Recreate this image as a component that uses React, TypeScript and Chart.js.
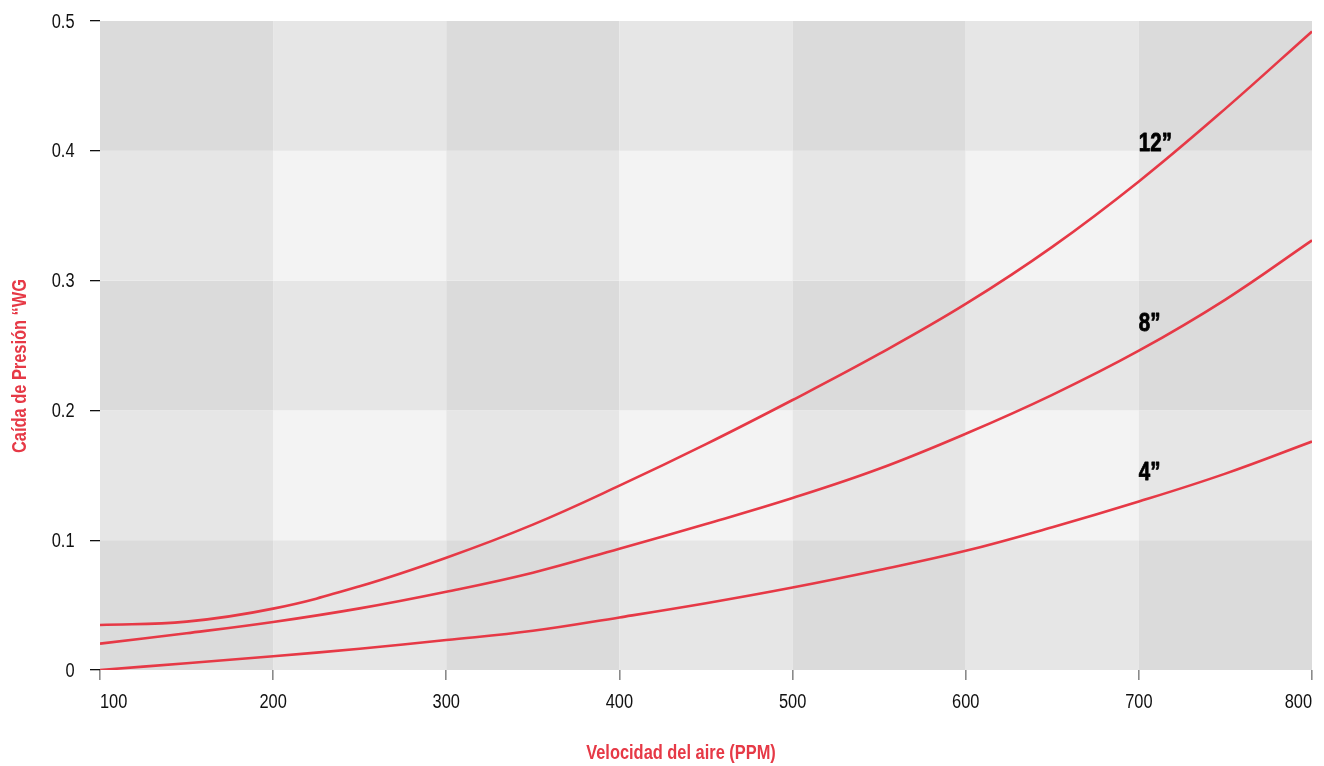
import { useEffect, useRef } from 'react';
import { Chart, registerables } from 'chart.js';

Chart.register(...registerables);

// ---- data ----
const velocities = [100, 150, 200, 250, 300, 350, 400, 450, 500, 550, 600, 650, 700, 750, 800];
const drop12 = [0.0347, 0.0373, 0.0473, 0.0645, 0.0865, 0.112, 0.142, 0.174, 0.208, 0.2435, 0.282, 0.326, 0.3764, 0.4325, 0.492];
const drop8 = [0.0203, 0.0283, 0.037, 0.0475, 0.0603, 0.075, 0.0935, 0.1125, 0.1325, 0.155, 0.182, 0.212, 0.246, 0.2854, 0.331];
const drop4 = [0.0, 0.0052, 0.0106, 0.0164, 0.0231, 0.0302, 0.0405, 0.0514, 0.0635, 0.077, 0.0918, 0.11, 0.1298, 0.1513, 0.176];
const xTicks = [100, 200, 300, 400, 500, 600, 700, 800];
const yTicks = [0, 0.1, 0.2, 0.3, 0.4, 0.5];
const xTickLabels = ['100', '200', '300', '400', '500', '600', '700', '800'];
const yTickLabels = ['0', '0.1', '0.2', '0.3', '0.4', '0.5'];
const seriesNames = ['12”', '8”', '4”'];
const labelAnchorX = 700;
const labelAnchorY = [0.4, 0.261, 0.146];
const xTitle = 'Velocidad del aire (PPM)';
const yTitle = 'Caída de Presión “WG';

const RED = '#e63946';
const SANS = '"Liberation Sans", Arial, sans-serif';
const NARROW_SCALE = 0.82;

function narrowText(
  ctx: CanvasRenderingContext2D,
  text: string,
  x: number,
  y: number,
  align: CanvasTextAlign,
  baseline: CanvasTextBaseline,
  font: string,
  color: string,
  stroke = 0,
) {
  ctx.save();
  ctx.translate(x, y);
  ctx.scale(NARROW_SCALE, 1);
  ctx.font = font;
  ctx.fillStyle = color;
  ctx.textAlign = align;
  ctx.textBaseline = baseline;
  ctx.fillText(text, 0, 0);
  if (stroke > 0) {
    ctx.strokeStyle = color;
    ctx.lineWidth = stroke;
    ctx.lineJoin = 'round';
    ctx.strokeText(text, 0, 0);
  }
  ctx.restore();
}

const checkerPlugin = {
  id: 'checker',
  beforeDatasetsDraw(chart: any) {
    const { ctx, scales } = chart;
    const xs = scales.x;
    const ys = scales.y;
    ctx.save();
    for (let i = 0; i < xTicks.length - 1; i++) {
      for (let j = 0; j < yTicks.length - 1; j++) {
        const dark = (i % 2 === 0 ? 1 : 0) + (j % 2 === 0 ? 1 : 0);
        ctx.fillStyle = dark === 2 ? '#dbdbdb' : dark === 1 ? '#e6e6e6' : '#f3f3f3';
        const x0 = xs.getPixelForValue(xTicks[i]);
        const x1 = xs.getPixelForValue(xTicks[i + 1]);
        const y0 = ys.getPixelForValue(yTicks[j + 1]);
        const y1 = ys.getPixelForValue(yTicks[j]);
        ctx.fillRect(x0, y0, x1 - x0, y1 - y0);
      }
    }
    ctx.restore();
  },
};

const textPlugin = {
  id: 'texts',
  afterDraw(chart: any) {
    const { ctx, scales, chartArea } = chart;
    const xs = scales.x;
    const ys = scales.y;
    const tickFont = `20px ${SANS}`;
    // x tick labels
    xTicks.forEach((v, i) => {
      const align: CanvasTextAlign = i === 0 ? 'left' : i === xTicks.length - 1 ? 'right' : 'center';
      narrowText(ctx, xTickLabels[i], xs.getPixelForValue(v), chartArea.bottom + 38, align, 'alphabetic', tickFont, '#111111');
    });
    // y tick labels
    yTicks.forEach((v, i) => {
      narrowText(ctx, yTickLabels[i], chartArea.left - 25.5, ys.getPixelForValue(v) + 1, 'right', 'middle', tickFont, '#111111');
    });
    // series labels
    seriesNames.forEach((name, i) => {
      narrowText(
        ctx,
        name,
        xs.getPixelForValue(labelAnchorX),
        ys.getPixelForValue(labelAnchorY[i]),
        'left',
        'alphabetic',
        `bold 25px ${SANS}`,
        '#000000',
        0.8,
      );
    });
    // axis titles
    const titleFont = `bold 20px ${SANS}`;
    narrowText(ctx, xTitle, 681, chartArea.bottom + 89, 'center', 'alphabetic', titleFont, RED);
    ctx.save();
    ctx.translate(26, chartArea.top + 345);
    ctx.rotate(-Math.PI / 2);
    ctx.font = titleFont;
    ctx.fillStyle = RED;
    ctx.textAlign = 'center';
    ctx.textBaseline = 'alphabetic';
    ctx.scale(NARROW_SCALE, 1);
    ctx.fillText(yTitle, 0, 0);
    ctx.restore();
  },
};

export default function App() {
  const ref = useRef<HTMLCanvasElement | null>(null);
  useEffect(() => {
    if (!ref.current) return;
    const mk = (arr: number[]) => velocities.map((v, i) => ({ x: v, y: arr[i] }));
    const ds = (label: string, arr: number[]) => ({
      label,
      data: mk(arr),
      borderColor: RED,
      borderWidth: 2.6,
      pointRadius: 0,
      fill: false,
      tension: 0.4,
    });
    const chart = new Chart(ref.current, {
      type: 'line',
      data: {
        datasets: [ds(seriesNames[0], drop12), ds(seriesNames[1], drop8), ds(seriesNames[2], drop4)],
      },
      options: {
        animation: false,
        responsive: false,
        layout: { padding: { top: 21, right: 12, left: 0, bottom: 0 } },
        plugins: { legend: { display: false }, tooltip: { enabled: false } },
        scales: {
          x: {
            type: 'linear',
            min: xTicks[0],
            max: xTicks[xTicks.length - 1],
            afterBuildTicks: (axis: any) => {
              axis.ticks = xTicks.map((v) => ({ value: v }));
            },
            afterFit: (axis: any) => {
              axis.height = 96;
              axis.paddingLeft = 0;
              axis.paddingRight = 0;
              axis.paddingTop = 0;
              axis.paddingBottom = 0;
            },
            border: { display: false },
            grid: { drawOnChartArea: false, drawTicks: true, tickLength: 10, color: '#8a8a8a', lineWidth: 1.6 },
            ticks: { display: false },
          },
          y: {
            type: 'linear',
            min: yTicks[0],
            max: yTicks[yTicks.length - 1],
            afterBuildTicks: (axis: any) => {
              axis.ticks = yTicks.map((v) => ({ value: v }));
            },
            afterFit: (axis: any) => {
              axis.width = 100;
              axis.paddingLeft = 0;
              axis.paddingRight = 0;
              axis.paddingTop = 0;
              axis.paddingBottom = 0;
            },
            border: { display: false },
            grid: { drawOnChartArea: false, drawTicks: true, tickLength: 10, color: '#111111', lineWidth: 1.3 },
            ticks: { display: false },
          },
        },
      } as any,
      plugins: [checkerPlugin, textPlugin],
    });
    return () => chart.destroy();
  }, []);
  return (
    <div style={{ position: 'absolute', left: 0, top: 0, width: 1324, height: 766, background: '#ffffff' }}>
      <canvas ref={ref} width={1324} height={766} style={{ display: 'block', width: 1324, height: 766 }} />
    </div>
  );
}
